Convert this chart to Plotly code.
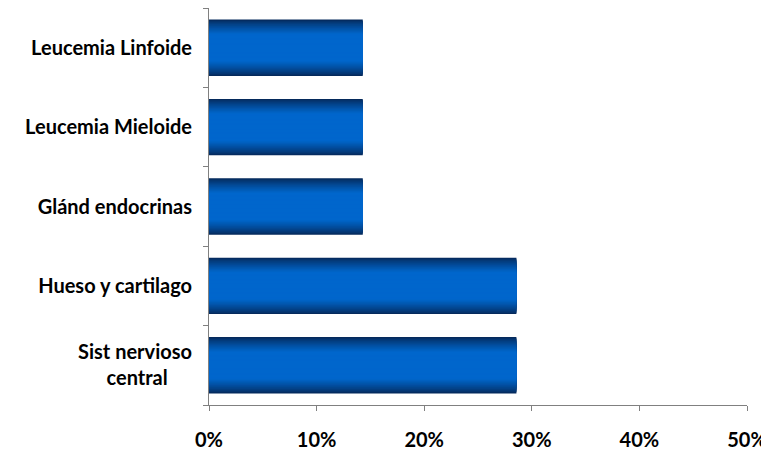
import plotly.graph_objects as go

categories = ["Sist nervioso<br>central\u00a0\u00a0\u00a0\u00a0\u00a0", "Hueso y cartilago", "Glánd endocrinas",
              "Leucemia Mieloide", "Leucemia Linfoide"]
values = [28.57, 28.57, 14.29, 14.29, 14.29]
x_ticks = [0, 10, 20, 30, 40, 50]
x_tick_labels = ["0%", "10%", "20%", "30%", "40%", "50%"]

# gradient simulation: overlaid bars of decreasing width (dark edges -> bright center)
edge = (0x05, 0x2a, 0x5c)
center = (0x00, 0x66, 0xcc)
n = 24
full_w = 0.71
fig = go.Figure()
for i in range(n):
    t = i / (n - 1)
    w = full_w * (1 - t * 0.92)
    k = min(1.0, (t / 0.55)) ** 0.8
    c = tuple(round(edge[j] + (center[j] - edge[j]) * k) for j in range(3))
    fig.add_trace(go.Bar(
        y=categories, x=values, orientation="h", width=w,
        marker=dict(color="rgb(%d,%d,%d)" % c, line=dict(width=0)),
        hoverinfo="skip" if i else "x+y", showlegend=False,
    ))

# page body has an 8px default margin; compensate so the plot lands where the reference is
fig.update_layout(
    barmode="overlay",
    width=761, height=444,
    margin=dict(l=201, r=22, t=0, b=47, autoexpand=False),
    paper_bgcolor="white", plot_bgcolor="white",
    font=dict(family="Lato", size=20, color="black"),
)
fig.update_xaxes(
    range=[0, 50], tickvals=x_ticks, ticktext=x_tick_labels, automargin=False,
    showgrid=False, zeroline=False, showline=True, linecolor="#808080", linewidth=1,
    ticks="outside", ticklen=5, tickcolor="#808080",
    tickfont=dict(family="Lato", size=20, color="black", weight="bold"),
    ticklabelstandoff=12,
)
fig.update_yaxes(
    categoryorder="array", categoryarray=categories, automargin=False,
    showgrid=False, zeroline=False, showline=True, linecolor="#808080", linewidth=1,
    ticks="outside", ticklen=5, tickcolor="#808080", tickson="boundaries",
    tickfont=dict(family="Lato", size=20, color="black", weight="bold"),
    ticklabelstandoff=12,
)
fig.write_html("out.html")
